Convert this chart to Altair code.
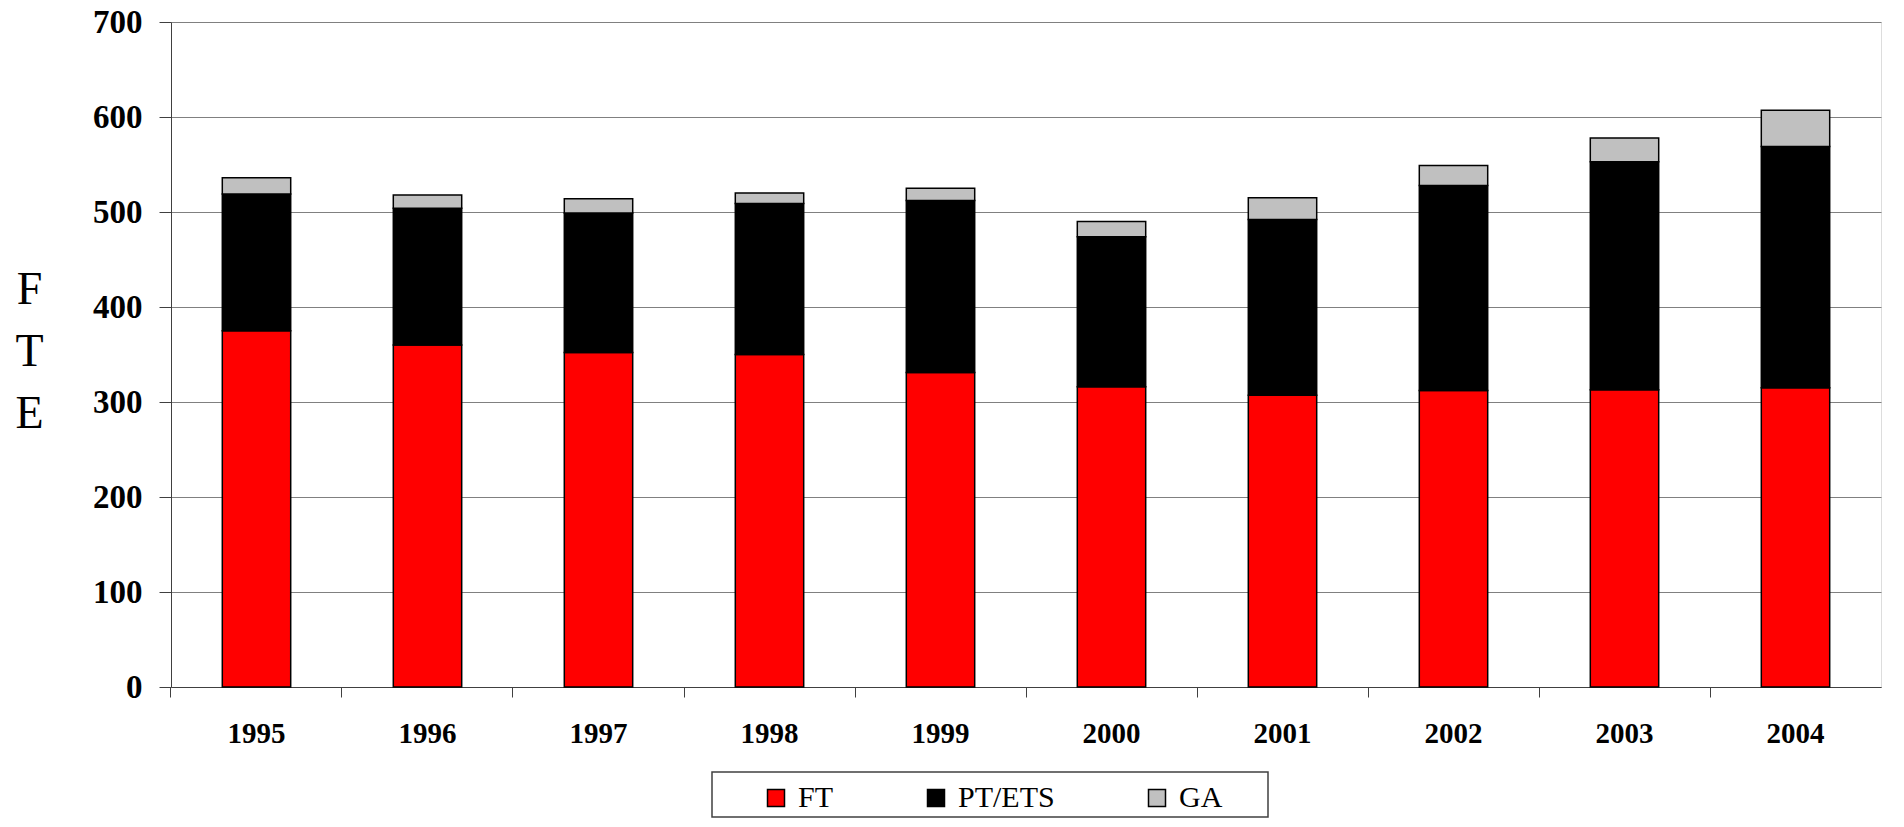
import altair as alt
import pandas as pd

years = ["1995", "1996", "1997", "1998", "1999", "2000", "2001", "2002", "2003", "2004"]
series = ["FT", "PT/ETS", "GA"]
ft = [375, 360, 352, 350, 331, 316, 307, 312, 313, 315]
pt = [144, 144, 147, 159, 181, 158, 185, 216, 240, 254]
ga = [17, 14, 15, 11, 13, 16, 23, 21, 25, 38]
colors = ["#FF0000", "#000000", "#C0C0C0"]
y_ticks = [0, 100, 200, 300, 400, 500, 600, 700]

rows = []
for i, y in enumerate(years):
    for k, (name, vals) in enumerate(zip(series, [ft, pt, ga])):
        rows.append({"year": y, "series": name, "value": vals[i], "ord": k})
df = pd.DataFrame(rows)

bars = alt.Chart(df).mark_bar(stroke="#000000", strokeWidth=1.5).encode(
    x=alt.X("year:N", sort=years,
            scale=alt.Scale(paddingInner=0.6, paddingOuter=0.3),
            axis=alt.Axis(title=None, labelAngle=0, bandPosition=-0.75,
                          labelFont="Liberation Serif", labelFontWeight="bold", labelFontSize=29,
                          labelColor="#000000", labelPadding=22, tickSize=10, tickColor="#404040",
                          domainColor="#404040", grid=False)),
    y=alt.Y("value:Q", stack="zero",
            scale=alt.Scale(domain=[0, 700], nice=False),
            axis=alt.Axis(values=y_ticks, title=["F", "T", "E"], titleAngle=0,
                          titleFont="Liberation Serif", titleFontWeight="normal", titleFontSize=46,
                          titleColor="#000000", titleX=-142, titleY=267, titleAlign="center",
                          titleBaseline="middle", titleLineHeight=62,
                          labelFont="Liberation Serif", labelFontWeight="bold", labelFontSize=33,
                          labelColor="#000000", labelPadding=17, tickSize=12, tickColor="#404040",
                          domainColor="#404040", gridColor="#808080", gridWidth=1)),
    color=alt.Color("series:N", scale=alt.Scale(domain=series, range=colors),
                    legend=alt.Legend(title=None, orient="none", legendX=590, legendY=761,
                                      direction="horizontal", columnPadding=87,
                                      symbolType="square", symbolSize=289,
                                      symbolStrokeColor="#000000", symbolStrokeWidth=1.5,
                                      symbolOffset=0, labelOffset=7,
                                      labelFont="Liberation Serif", labelFontSize=30,
                                      labelColor="#000000", padding=0)),
    order=alt.Order("ord:Q", sort="ascending"),
)

box = alt.Chart(alt.Data(values=[{"a": 1}])).mark_rect(
    fill="#FFFFFF", stroke="#404040", strokeWidth=1.5
).encode(x=alt.value(541), x2=alt.value(1097), y=alt.value(750), y2=alt.value(795))

chart = alt.layer(box, bars).properties(
    width=1710, height=665,
    autosize=alt.AutoSizeParams(type="none"),
    padding={"left": 163, "top": 14, "right": 15, "bottom": 132},
).configure_view(stroke="#808080", strokeWidth=1).configure(
    background="#FFFFFF", font="Liberation Serif"
).configure_legend(labelFont="Liberation Serif")

chart.save("out.html", embed_options={"renderer": "svg", "actions": False})
